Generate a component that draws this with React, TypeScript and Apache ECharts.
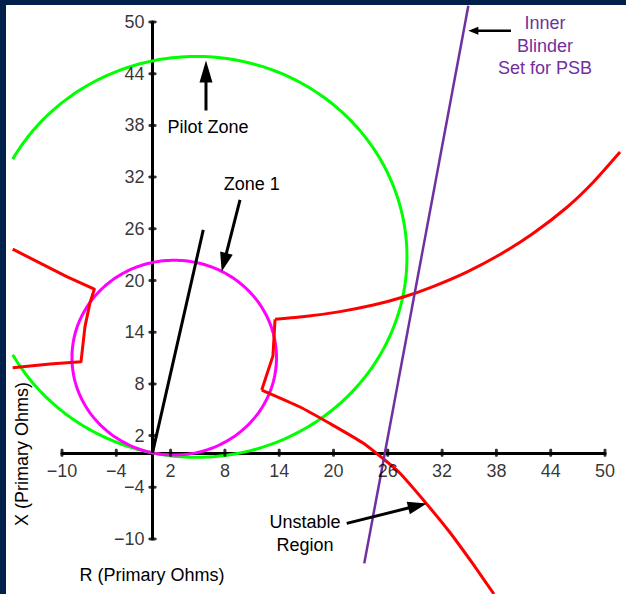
import React, { useEffect, useRef } from "react";
import * as echarts from "echarts";

// Tick positions on the R and X axes (primary ohms)
const rTicks = [-10, -4, 2, 8, 14, 20, 26, 32, 38, 44, 50];
const xTicks = [-10, -4, 2, 8, 14, 20, 26, 32, 38, 44, 50];

// Mho characteristics: [centre R, centre X, radius, start angle (deg), end angle (deg)]
const pilotZone = [4.86, 22.74, 23.26, -150.8, 150.8];
const zone1 = [2.4, 11.05, 11.3, -180, 180];

// Line impedance and the inner blinder
const lineImpedance = [
  [0, 0],
  [5.61, 25.88],
];
const innerBlinder = [
  [23.4, -12.83],
  [34.9, 51.89],
];

// Impedance trajectory (swing locus), in pieces
const swingLeft = [
  [-15.45, 23.64],
  [-9.48, 20.45],
  [-6.43, 18.99],
  [-6.91, 17.4],
  [-7.46, 14.65],
  [-7.9, 10.58],
  [-11.33, 10.31],
  [-15.45, 9.88],
];
const swingUpper = [
  [13.54, 15.49],
  [17.04, 15.84],
  [20.72, 16.39],
  [24.4, 17.15],
  [27.71, 18.08],
  [30.99, 19.3],
  [34.72, 20.98],
  [38.4, 23.01],
  [42.04, 25.45],
  [45.77, 28.47],
  [48.67, 31.37],
  [51.66, 34.91],
];
const swingDrop = [
  [13.54, 15.49],
  [13.31, 11.25],
  [12.07, 7.29],
];
const swingLower = [
  [12.07, 7.29],
  [16.3, 5.32],
  [19.61, 3.4],
  [23.26, 1.14],
  [25.8, -0.95],
  [27.35, -2.38],
  [30.3, -5.94],
  [32.87, -9.25],
  [35.41, -12.9],
  [37.73, -16.39],
];

const FONT_FAMILY = "'Liberation Sans', Arial, Helvetica, sans-serif";
const FONT = "18px " + FONT_FAMILY;
const PURPLE = "#7030a0";

type Arrow = { tail: number[]; tip: number[]; len: number; wid: number; lw: number };
const arrows: Arrow[] = [
  { tail: [5.91, 39.73], tip: [5.91, 45.54], len: 22, wid: 13, lw: 3 },
  { tail: [9.67, 29.36], tip: [7.65, 21.03], len: 19, wid: 13, lw: 3 },
  { tail: [39.61, 48.99], tip: [34.9, 48.99], len: 10, wid: 8, lw: 2.5 },
  { tail: [21.46, -8.19], tip: [30.3, -5.87], len: 19, wid: 13, lw: 3 },
];

type Note = { at: number[]; text: string; color: string; lineHeight: number };
const notes: Note[] = [
  { at: [6.13, 37.87], text: "Pilot Zone", color: "#000", lineHeight: 22 },
  { at: [10.96, 31.18], text: "Zone 1", color: "#000", lineHeight: 22 },
  { at: [43.37, 47.27], text: "Inner\nBlinder\nSet for PSB", color: PURPLE, lineHeight: 22.5 },
  { at: [16.85, -9.31], text: "Unstable\nRegion", color: "#000", lineHeight: 23 },
];

const minus = (v: number) => String(v).replace("-", "\u2212");

// Circle (or arc) of a mho characteristic, mapped through the axes
function circleSeries(item: number[], color: string) {
  return {
    type: "custom",
    coordinateSystem: "cartesian2d",
    data: [item],
    encode: { x: 0, y: 1 },
    clip: false,
    silent: true,
    z: 3,
    renderItem: (_params: any, api: any) => {
      const cx = api.value(0);
      const cy = api.value(1);
      const r = api.value(2);
      const a0 = api.value(3);
      const a1 = api.value(4);
      const steps = 240;
      const pts: number[][] = [];
      for (let i = 0; i <= steps; i++) {
        const t = ((a0 + ((a1 - a0) * i) / steps) * Math.PI) / 180;
        pts.push(api.coord([cx + r * Math.cos(t), cy + r * Math.sin(t)]));
      }
      return {
        type: "polyline",
        shape: { points: pts },
        style: { stroke: color, lineWidth: 3, fill: null },
      };
    },
  };
}

// Polyline through the given points, not clipped to the axis range
function pathSeries(points: number[][], color: string, width: number, smooth: number) {
  return {
    type: "custom",
    coordinateSystem: "cartesian2d",
    data: points,
    encode: { x: 0, y: 1 },
    clip: false,
    silent: true,
    z: 4,
    renderItem: (params: any, api: any) => {
      if (params.dataIndex !== 0) return null;
      return {
        type: "polyline",
        shape: { points: points.map((p) => api.coord(p)), smooth },
        style: { stroke: color, lineWidth: width, fill: null, lineJoin: "round" },
      };
    },
  };
}

export default function App() {
  const ref = useRef<HTMLDivElement>(null);

  useEffect(() => {
    if (!ref.current) return;
    const chart = echarts.init(ref.current, undefined, { renderer: "svg" });

    const axisCommon = {
      type: "value",
      min: -10,
      max: 50,
      splitLine: { show: false },
      axisTick: { show: false },
      axisLabel: { show: false },
      axisLine: { onZero: true, lineStyle: { color: "#000", width: 3 } },
    };

    const tickLabel = {
      show: true,
      color: "#000",
      fontSize: 18,
      fontFamily: FONT_FAMILY,
    };

    chart.setOption({
      animation: false,
      backgroundColor: "transparent",
      grid: { left: 62, right: 21, top: 22, bottom: 55, containLabel: false },
      xAxis: { ...axisCommon },
      yAxis: { ...axisCommon },
      series: [
        circleSeries(pilotZone, "#00ff00"),
        circleSeries(zone1, "#ff00ff"),
        pathSeries(swingLeft, "#ff0000", 3, 0),
        pathSeries(swingUpper, "#ff0000", 3, 0.2),
        pathSeries(swingDrop, "#ff0000", 3, 0),
        pathSeries(swingLower, "#ff0000", 3, 0.2),
        pathSeries(lineImpedance, "#000000", 3, 0),
        pathSeries(innerBlinder, PURPLE, 2.5, 0),
        // R-axis tick marks and labels
        {
          type: "scatter",
          data: rTicks.map((v) => [v, 0]),
          symbol: "roundRect",
          symbolSize: [3, 8],
          itemStyle: { color: "#000" },
          label: {
            ...tickLabel,
            position: "bottom",
            distance: 5,
            formatter: (p: any) => minus(p.value[0]),
          },
          silent: true,
          clip: false,
          z: 6,
        },
        // X-axis tick marks and labels
        {
          type: "scatter",
          data: xTicks.map((v) => [0, v]),
          symbol: "roundRect",
          symbolSize: [8, 3],
          itemStyle: { color: "#000" },
          label: {
            ...tickLabel,
            position: "left",
            distance: 4,
            formatter: (p: any) => minus(p.value[1]),
          },
          silent: true,
          clip: false,
          z: 6,
        },
      ],
    });

    const toPx = (p: number[]) => chart.convertToPixel({ gridIndex: 0 }, p) as number[];
    const graphics: any[] = [];

    arrows.forEach((a) => {
      const [tx, ty] = toPx(a.tail);
      const [hx, hy] = toPx(a.tip);
      const dx = hx - tx;
      const dy = hy - ty;
      const d = Math.hypot(dx, dy);
      const ux = dx / d;
      const uy = dy / d;
      const bx = hx - ux * a.len;
      const by = hy - uy * a.len;
      const nx = -uy * (a.wid / 2);
      const ny = ux * (a.wid / 2);
      graphics.push({
        type: "line",
        shape: { x1: tx, y1: ty, x2: bx + ux * 2, y2: by + uy * 2 },
        style: { stroke: "#000", lineWidth: a.lw },
        z: 10,
      });
      graphics.push({
        type: "polygon",
        shape: { points: [[hx, hy], [bx + nx, by + ny], [bx - nx, by - ny]] },
        style: { fill: "#000" },
        z: 10,
      });
    });

    notes.forEach((n) => {
      const [x, y] = toPx(n.at);
      graphics.push({
        type: "text",
        x,
        y,
        style: {
          text: n.text,
          font: FONT,
          fill: n.color,
          align: "center",
          verticalAlign: "middle",
          textAlign: "center",
          textVerticalAlign: "middle",
          lineHeight: n.lineHeight,
        },
        z: 10,
      });
    });

    graphics.push({
      type: "text",
      x: 152,
      y: 575,
      style: {
        text: "R (Primary Ohms)",
        font: FONT,
        fill: "#000",
        align: "center",
        verticalAlign: "middle",
        textAlign: "center",
        textVerticalAlign: "middle",
      },
      z: 10,
    });
    graphics.push({
      type: "text",
      x: 22,
      y: 454,
      rotation: Math.PI / 2,
      style: {
        text: "X (Primary Ohms)",
        font: FONT,
        fill: "#000",
        align: "center",
        verticalAlign: "middle",
        textAlign: "center",
        textVerticalAlign: "middle",
      },
      z: 10,
    });

    chart.setOption({ graphic: graphics });

    return () => chart.dispose();
  }, []);

  return (
    <div
      style={{
        position: "fixed",
        left: 0,
        top: 0,
        width: 626,
        height: 594,
        background: "#02214a",
        overflow: "hidden",
      }}
    >
      <div
        style={{
          position: "absolute",
          left: 6,
          top: 5,
          width: 620,
          height: 589,
          background: "#ffffff",
        }}
      />
      <div ref={ref} style={{ position: "absolute", left: 0, top: 0, width: 626, height: 594 }} />
    </div>
  );
}
